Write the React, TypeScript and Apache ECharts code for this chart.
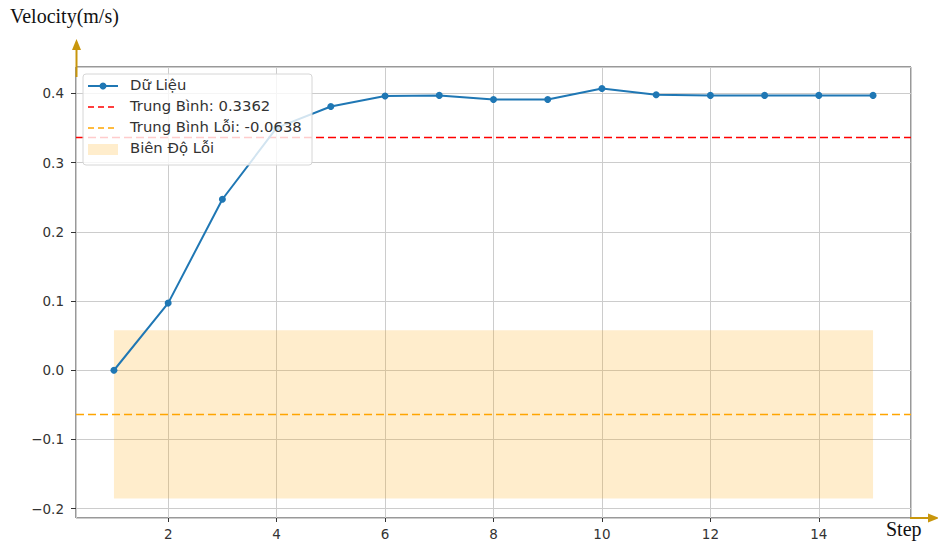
import React, { useEffect, useRef } from "react";
import * as echarts from "echarts";

const steps = [1, 2, 3, 4, 5, 6, 7, 8, 9, 10, 11, 12, 13, 14, 15];
const velocity = [0.0, 0.097, 0.247, 0.35, 0.381, 0.396, 0.397, 0.391, 0.391, 0.407, 0.398, 0.397, 0.397, 0.397, 0.397];
const meanValue = 0.3362;
const meanError = -0.0638;
const errorBand = [-0.1853, 0.0577];
const bandSteps = [1, 15];
const xRange = [0.3, 15.7];
const yRange = [-0.2134, 0.438];
const legendLabels = ["Dữ Liệu", "Trung Bình: 0.3362", "Trung Bình Lỗi: -0.0638", "Biên Độ Lỗi"];
const yAxisName = "Velocity(m/s)";
const xAxisName = "Step";

const fmt = (v: number) => {
  const s = v.toFixed(1);
  return s.startsWith("-") ? "\u2212" + s.slice(1) : s;
};

export default function App() {
  const ref = useRef<HTMLDivElement>(null);
  useEffect(() => {
    if (!ref.current) return;
    const chart = echarts.init(ref.current, null, { renderer: "svg" });
    const gold = "#C8960C";
    const tickFont = { fontFamily: "DejaVu Sans", fontSize: 13.5, color: "#333" };
    const lx = 83, ly = 74;
    const rowY = [86, 107, 128, 149];
    chart.setOption({
      animation: false,
      grid: { left: 76, right: 27, top: 67, bottom: 25, show: true, borderColor: "#333", borderWidth: 1, backgroundColor: "transparent" },
      xAxis: {
        type: "value",
        min: xRange[0],
        max: xRange[1],
        splitNumber: 8,
        axisLine: { show: false, onZero: false },
        axisTick: { show: true, length: 4, lineStyle: { color: "#333" } },
        axisLabel: { ...tickFont, margin: 9, showMinLabel: false, showMaxLabel: false, formatter: (v: number) => String(Math.round(v)) },
        splitLine: { show: true, lineStyle: { color: "#cccccc", width: 1 } },
      },
      yAxis: {
        type: "value",
        min: yRange[0],
        max: yRange[1],
        splitNumber: 6,
        axisLine: { show: false, onZero: false },
        axisTick: { show: true, length: 5, lineStyle: { color: "#333" } },
        axisLabel: { ...tickFont, margin: 12, showMinLabel: false, showMaxLabel: false, formatter: (v: number) => fmt(v) },
        splitLine: { show: true, lineStyle: { color: "#cccccc", width: 1 } },
      },
      series: [
        {
          type: "line",
          data: steps.map((s, i) => [s, velocity[i]]),
          symbol: "circle",
          symbolSize: 7,
          itemStyle: { color: "#1f77b4" },
          lineStyle: { color: "#1f77b4", width: 2 },
          z: 5,
          markArea: {
            silent: true,
            itemStyle: { color: "rgba(255,165,0,0.2)" },
            data: [[{ coord: [bandSteps[0], errorBand[0]] }, { coord: [bandSteps[1], errorBand[1]] }]],
          },
        },
        {
          type: "line",
          data: [[xRange[0], meanValue], [xRange[1], meanValue]],
          symbol: "none",
          silent: true,
          lineStyle: { color: "#ff0000", type: [8, 4], width: 1.5 },
          z: 4,
        },
        {
          type: "line",
          data: [[xRange[0], meanError], [xRange[1], meanError]],
          symbol: "none",
          silent: true,
          lineStyle: { color: "#ffa500", type: [8, 4], width: 1.5 },
          z: 4,
        },
      ],
      graphic: [
        { type: "text", left: 10, top: 6, style: { text: yAxisName, font: '20px "Liberation Serif", "Times New Roman", serif', fill: "#111" } },
        { type: "text", left: 886, top: 519, style: { text: xAxisName, font: '20px "Liberation Serif", "Times New Roman", serif', fill: "#111" } },
        { type: "line", shape: { x1: 76.5, y1: 77, x2: 76.5, y2: 48 }, style: { stroke: gold, lineWidth: 2 }, z: 20 },
        { type: "polygon", shape: { points: [[76.5, 39], [72, 50], [81, 50]] }, style: { fill: gold }, z: 20 },
        { type: "line", shape: { x1: 910, y1: 518, x2: 930, y2: 518 }, style: { stroke: gold, lineWidth: 2 }, z: 20 },
        { type: "polygon", shape: { points: [[939, 518], [928, 513.5], [928, 522.5]] }, style: { fill: gold }, z: 20 },
        {
          type: "rect",
          shape: { x: lx, y: ly, width: 229, height: 91, r: 3 },
          style: { fill: "rgba(255,255,255,0.8)", stroke: "#d6d6d6", lineWidth: 1 },
          z: 30,
        },
        { type: "line", shape: { x1: 88, y1: rowY[0], x2: 118, y2: rowY[0] }, style: { stroke: "#1f77b4", lineWidth: 2 }, z: 31 },
        { type: "circle", shape: { cx: 103, cy: rowY[0], r: 3.5 }, style: { fill: "#1f77b4" }, z: 31 },
        { type: "line", shape: { x1: 88, y1: rowY[1], x2: 118, y2: rowY[1] }, style: { stroke: "#ff0000", lineWidth: 1.5, lineDash: [6, 4] }, z: 31 },
        { type: "line", shape: { x1: 88, y1: rowY[2], x2: 118, y2: rowY[2] }, style: { stroke: "#ffa500", lineWidth: 1.5, lineDash: [6, 4] }, z: 31 },
        { type: "rect", shape: { x: 88, y: rowY[3] - 5, width: 30, height: 11 }, style: { fill: "rgba(255,165,0,0.2)" }, z: 31 },
        ...legendLabels.map((t, i) => ({
          type: "text",
          left: 130,
          top: rowY[i] - 9,
          style: { text: t, font: '14.8px "DejaVu Sans"', fill: "#333" },
          z: 31,
        })),
      ],
    });
    return () => chart.dispose();
  }, []);
  return <div ref={ref} style={{ width: 938, height: 543, position: "absolute", left: 0, top: 0 }} />;
}
